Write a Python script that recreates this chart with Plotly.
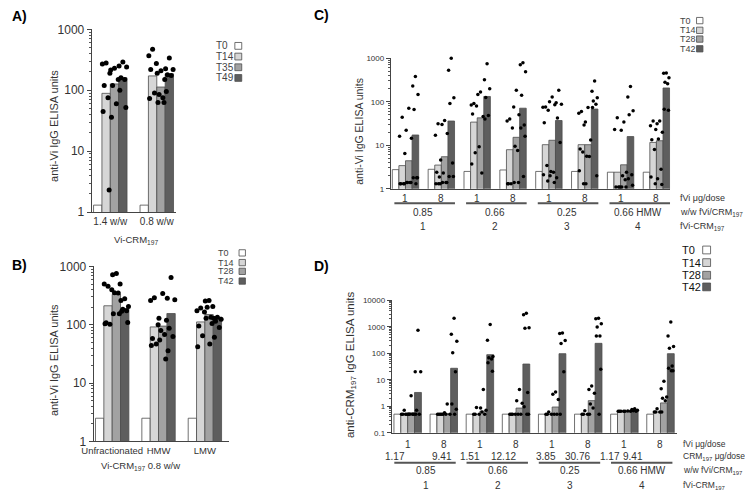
import plotly.graph_objects as go

FONT = "Liberation Sans, Arial, sans-serif"
W, H = 745, 498

# ---------------- DATA ----------------
# Panel A
a_cats = ["1.4 w/w", "0.8 w/w"]
a_times = ["T0", "T14", "T35", "T49"]
a_t0 = [1.3, 1.3]
a_t14 = [89, 172]
a_t35 = [127, 113]
a_t49 = [160, 186]
a_t0_pts = [[], []]
a_t14_pts = [[280, 270, 190, 120, 75, 45, 2.3], [470, 370, 275, 220, 90, 73]]
a_t35_pts = [[230, 215, 150, 120, 60, 36], [210, 190, 150, 85, 75, 63, 63]]
a_t49_pts = [[290, 250, 240, 160, 150, 100, 52], [340, 225, 220, 180, 175, 95]]

# Panel B
b_cats = ["Unfractionated", "HMW", "LMW"]
b_times = ["T0", "T14", "T28", "T42"]
b_t0 = [2.5, 2.5, 2.5]
b_t14 = [212, 92, 112]
b_t28 = [332, 95, 150]
b_t42 = [190, 156, 135]
b_t0_pts = [[], [], []]
b_t14_pts = [[460, 500, 400, 108, 102, 104], [290, 260, 100, 58, 47, 44], [195, 175, 165, 95, 65, 42]]
b_t28_pts = [[760, 720, 500, 355, 350, 155, 155], [345, 130, 120, 80, 68, 55, 26],
             [260, 255, 205, 200, 135, 130, 105, 47]]
b_t42_pts = [[280, 260, 205, 185, 175, 170, 110], [650, 285, 270, 87, 63, 36], [135, 130, 125, 115, 90, 61]]

# Panel C
c_times = ["T0", "T14", "T28", "T42"]
c_doses = ["1", "8", "1", "8", "1", "8", "1", "8"]
c_ratio = ["0.85", "0.66", "0.25", "0.66 HMW"]
c_conj = ["1", "2", "3", "4"]
c_t0 = [2.75, 2.8, 2.5, 2.7, 2.5, 2.5, 2.4, 2.4]
c_t14 = [3.4, 3.5, 34, 7.9, 10.3, 10.3, 2.4, 11.6]
c_t28 = [4.4, 5.45, 42.6, 15.2, 13, 10.3, 3.55, 12.7]
c_t42 = [17.2, 36, 132, 71, 37, 68, 15.8, 207]
c_t0_pts = [[], [], [], [], [], [], [], []]
c_t14_pts = [
    [44, 16, 6.5, 1.3, 1.3, 1.3, 1.3],
    [31, 17, 4.6, 2.4, 1.85, 1.3, 1.3, 1.3],
    [91, 84, 80, 52, 6.7, 3.7],
    [40, 36, 25, 1.3, 1.3, 1.3],
    [76, 75, 64, 33, 3.4, 2.1, 1.5],
    [60, 54, 29, 8.2, 7, 2.6, 1.3],
    [43, 23, 1.1, 1.1, 1.1],
    [36, 28, 23, 13.3, 8, 1.85, 1.3],
]
c_t28_pts = [
    [71, 22, 14.5, 1.4, 1.4, 1.4, 1.4],
    [37, 30, 18.6, 2.3, 1.4, 1.4, 1.4],
    [168, 146, 46, 9.2, 2.3],
    [183, 76, 50, 9.5, 7.6, 1.4, 1.4],
    [128, 100, 85, 2.5, 2.4, 2.0, 1.4],
    [74, 34, 13.2, 5.6, 5.5, 1.3],
    [34, 22, 2.4, 2.0, 1.6, 1.1, 1.1],
    [36, 31, 20, 14, 2.8, 1.7, 1.25],
]
c_t42_pts = [
    [380, 230, 146, 66, 1.8, 1.8, 1.8, 1.3],
    [1000, 530, 123, 91, 3.9, 1.9, 1.9],
    [750, 320, 200, 125, 48, 40],
    [790, 710, 490, 140, 29, 25, 16, 1.9],
    [183, 95, 88, 42, 11.6, 1.8],
    [300, 175, 123, 104, 88, 74, 2.0],
    [225, 128, 62, 50, 2.1, 1.7, 1.2],
    [460, 450, 357, 280, 258, 67, 64],
]

# Panel D
d_times = ["T0", "T14", "T28", "T42"]
d_doses = ["1", "8", "1", "8", "1", "8", "1", "8"]
d_crm = ["1.17", "9.41", "1.51", "12.12", "3.85", "30.76", "1.17", "9.41"]
d_ratio = ["0.85", "0.66", "0.25", "0.66 HMW"]
d_conj = ["1", "2", "3", "4"]
d_t0 = [0.5, 0.5, 0.5, 0.5, 0.5, 0.5, 0.5, 0.5]
d_t14 = [0.5, 0.5, 0.5, 0.5, 0.5, 0.5, 0.64, 0.6]
d_t28 = [0.56, 0.52, 0.65, 0.85, 0.93, 1.62, 0.64, 1.33]
d_t42 = [3.3, 27, 88, 39, 96, 236, 0.68, 96]
d_t0_pts = [[], [], [], [], [], [], [], []]
d_t14_pts = [
    [0.7, 0.5, 0.5, 0.5, 0.5],
    [0.5, 0.5, 0.5, 0.5, 0.5],
    [0.9, 0.5, 0.5, 0.5],
    [0.5, 0.5, 0.5, 0.5],
    [0.6, 0.5, 0.5, 0.5],
    [0.68, 0.5, 0.5, 0.5],
    [0.65, 0.64, 0.64, 0.64],
    [0.8, 0.6, 0.6, 0.6],
]
d_t28_pts = [
    [2.5, 0.5, 0.5, 0.5, 0.5],
    [1.22, 0.57, 0.5, 0.5],
    [4.3, 0.86, 0.7, 0.6, 0.5],
    [4.3, 1.6, 1.3, 0.5, 0.5],
    [3.4, 2.85, 1.8, 0.5, 0.5],
    [5.8, 4.3, 3.1, 1.2, 0.85, 0.5],
    [0.66, 0.64, 0.64],
    [8.8, 4.6, 2.2, 2.0, 1.6, 0.6],
]
d_t42_pts = [
    [730, 20, 20, 0.7, 0.5, 0.5],
    [2100, 520, 280, 105, 20, 1.2, 0.76, 0.5],
    [1200, 310, 75, 68, 60, 44, 21],
    [3200, 2800, 910, 870, 3.3, 0.95, 0.5, 0.5],
    [580, 560, 300, 230, 20, 0.5],
    [2100, 2000, 1300, 970, 450, 450, 25, 0.5],
    [0.8, 0.75, 0.7, 0.68, 0.65],
    [1500, 450, 180, 155, 33, 27, 22, 22],
]

ytick_vals_vi = [1, 10, 100, 1000]
ytick_text_vi = ["1", "10", "100", "1000"]
ytick_vals_crm = [0.1, 1, 10, 100, 1000, 10000]
ytick_text_crm = ["0.1", "1", "10", "100", "1000", "10000"]

# ---------------- STYLE ----------------
COLORS = ["#ffffff", "#d6d6d6", "#a2a2a2", "#5e5e5e"]
EDGE = "#4d4d4d"
TXT = "#333333"
JIT = [0, -1, 1, -0.5, 0.5, -0.8, 0.8, 0.2, -0.2]
d_crm_shift = [-0.35, -0.05, -0.28, -0.36, -0.16, -0.31, -0.41, -0.76]


def px(x):
    return x / W


def py(y):
    return 1 - y / H


fig = go.Figure()


def add_panel(xa, ya, series, points, bw, msize, jit):
    n = len(series[0])
    for k, vals in enumerate(series):
        off = (k - 1.5) * bw
        fig.add_trace(go.Bar(
            x=[g + off for g in range(n)], y=vals, width=bw,
            marker=dict(color=COLORS[k], line=dict(color=EDGE, width=0.8)),
            xaxis=xa, yaxis=ya, showlegend=False, hoverinfo="skip"))
    for k, pts in enumerate(points):
        off = (k - 1.5) * bw
        xs, ys = [], []
        for g, plist in enumerate(pts):
            for j, v in enumerate(plist):
                xs.append(g + off + JIT[j % len(JIT)] * bw * jit)
                ys.append(v)
        if xs:
            fig.add_trace(go.Scatter(
                x=xs, y=ys, mode="markers",
                marker=dict(color="black", size=msize),
                xaxis=xa, yaxis=ya, showlegend=False, hoverinfo="skip",
                cliponaxis=False))


add_panel("x", "y", [a_t0, a_t14, a_t35, a_t49], [a_t0_pts, a_t14_pts, a_t35_pts, a_t49_pts], 0.18, 5, 0.45)
add_panel("x2", "y2", [b_t0, b_t14, b_t28, b_t42], [b_t0_pts, b_t14_pts, b_t28_pts, b_t42_pts], 0.18, 5, 0.45)
add_panel("x3", "y3", [c_t0, c_t14, c_t28, c_t42], [c_t0_pts, c_t14_pts, c_t28_pts, c_t42_pts], 0.184, 3.5, 0.4)
add_panel("x4", "y4", [d_t0, d_t14, d_t28, d_t42], [d_t0_pts, d_t14_pts, d_t28_pts, d_t42_pts], 0.19, 3.5, 0.4)


def xax(dom, rng, anchor, tv=None, tt=None, fs=11):
    d = dict(domain=dom, range=rng, anchor=anchor, showline=True, linecolor="#444", linewidth=1,
             ticks="", showgrid=False, zeroline=False, fixedrange=True, tickangle=0,
             tickfont=dict(family=FONT, size=fs, color=TXT))
    if tv is None:
        d.update(showticklabels=False)
    else:
        d.update(tickmode="array", tickvals=tv, ticktext=tt)
    return d


def yax(dom, rng, anchor, tv, tt, fs):
    return dict(domain=dom, range=rng, anchor=anchor, type="log", showline=True, linecolor="#444",
                linewidth=1, ticks="outside", ticklen=4, tickcolor="#444", showgrid=False,
                zeroline=False, fixedrange=True, tickmode="array", tickvals=tv, ticktext=tt,
                tickfont=dict(family=FONT, size=fs, color=TXT),
                minor=dict(ticks="outside", ticklen=2, tickcolor="#555", dtick="D1", showgrid=False))


fig.update_layout(
    width=W, height=H, margin=dict(l=0, r=0, t=0, b=0),
    paper_bgcolor="white", plot_bgcolor="white", barmode="overlay",
    font=dict(family=FONT, color=TXT),
    xaxis=xax([px(81), px(167)], [-0.4, 1.42], "y", [0, 1], a_cats, 10),
    yaxis=yax([py(211), py(23)], [0, 3], "x", ytick_vals_vi, ytick_text_vi, 12),
    xaxis2=xax([px(83), px(221)], [-0.4, 2.53], "y2", [0, 1, 2], b_cats, 9.5),
    yaxis2=yax([py(447), py(267)], [0, 3], "x2", ytick_vals_vi, ytick_text_vi, 12),
    xaxis3=xax([px(385), px(669)], [-0.41, 7.385], "y3"),
    yaxis3=yax([py(187), py(52.7)], [0, 3], "x3", ytick_vals_vi, ytick_text_vi, 8),
    xaxis4=xax([px(386), px(676)], [-0.44, 7.46], "y4"),
    yaxis4=yax([py(438), py(301.7)], [-1, 4], "x4", ytick_vals_crm, ytick_text_crm, 8),
)

ann = []
shapes = []


def text(x, y, s, size=10, color=TXT, xanchor="center", xref="paper", angle=0, bold=False):
    if bold:
        s = "<b>" + s + "</b>"
    ann.append(dict(x=x, y=y, xref=xref, yref="paper", text=s, showarrow=False,
                    xanchor=xanchor, yanchor="middle", textangle=angle,
                    font=dict(family=FONT, size=size, color=color)))


# panel letters
text(px(8), py(9), "A)", 14, "black", bold=True)
text(px(8), py(265), "B)", 14, "black", bold=True)
text(px(315), py(8), "C)", 14, "black", bold=True)
text(px(315), py(266), "D)", 14, "black", bold=True)

# y titles
text(px(42), py(122), "anti-Vi IgG ELISA units", 11, angle=-90)
text(px(42), py(363), "anti-Vi IgG ELISA units", 11, angle=-90)
text(px(353), py(128), "anti-Vi IgG ELISA units", 10.5, angle=-90)
text(px(344), py(368), "anti-CRM<sub>197</sub> IgG ELISA units", 11.5, angle=-90)

# x titles A/B
text(px(126), py(240), "Vi-CRM<sub>197</sub>", 9.5)
text(px(131), py(472), "Vi-CRM<sub>197</sub> 0.8 w/w", 9.5)

# C rows
for i, s in enumerate(c_doses):
    text(i, py(197), s, 10, xref="x3")
for p, s in enumerate(c_ratio):
    text(2 * p + 0.5, py(211), s, 10, xref="x3")
    text(2 * p + 0.5, py(226), c_conj[p], 10, xref="x3")
    shapes.append(dict(type="line", xref="x3", yref="paper", x0=2 * p - 0.31, x1=2 * p + 1.38,
                       y0=py(202), y1=py(202), line=dict(color="#555", width=2)))
text(px(677), py(197), "fVi \u03bcg/dose", 9, xanchor="left")
text(px(677), py(211), "w/w fVi/CRM<sub>197</sub>", 9, xanchor="left")
text(px(677), py(226), "fVi-CRM<sub>197</sub>", 9, xanchor="left")

# D rows
for i, s in enumerate(d_doses):
    text(i, py(450), s, 10, xref="x4")
for i, s in enumerate(d_crm):
    text(i + d_crm_shift[i], py(463), s, 10, xref="x4")
for p, s in enumerate(d_ratio):
    text(2 * p + 0.5, py(477), s, 10, xref="x4")
    text(2 * p + 0.5, py(492), d_conj[p], 10, xref="x4")
    shapes.append(dict(type="line", xref="x4", yref="paper", x0=2 * p - 0.37, x1=2 * p + 1.33,
                       y0=py(469), y1=py(469), line=dict(color="#555", width=2)))
text(px(680), py(450), "fVi \u03bcg/dose", 8.5, xanchor="left")
text(px(680), py(463), "CRM<sub>197</sub> \u03bcg/dose", 8.5, xanchor="left")
text(px(680), py(477), "w/w fVi/CRM<sub>197</sub>", 8.5, xanchor="left")
text(px(680), py(492), "fVi-CRM<sub>197</sub>", 8.5, xanchor="left")


# legends
def legend(labels, tx, bx, ys, size, fs, color):
    for k, lab in enumerate(labels):
        text(px(tx), py(ys[k]), lab, fs, color, xanchor="left")
        shapes.append(dict(type="rect", xref="paper", yref="paper",
                           x0=px(bx - size / 2), x1=px(bx + size / 2),
                           y0=py(ys[k] + size / 2), y1=py(ys[k] - size / 2),
                           fillcolor=COLORS[k], line=dict(color=EDGE, width=0.8)))


legend(a_times, 205, 230, [40, 51, 62, 73], 7, 10, "#444")
legend(b_times, 207, 234, [253, 263, 272, 282], 6.5, 9, "#444")
legend(c_times, 677, 699, [14, 24, 33, 43], 6.5, 9, "#444")
legend(d_times, 679, 706, [250, 263, 276, 288], 8, 11, "#111")

fig.update_layout(annotations=ann, shapes=shapes)
fig.write_html("out.html", config={"displayModeBar": False, "staticPlot": True},
               post_script="document.body.style.margin='0';document.body.style.overflow='hidden';")
